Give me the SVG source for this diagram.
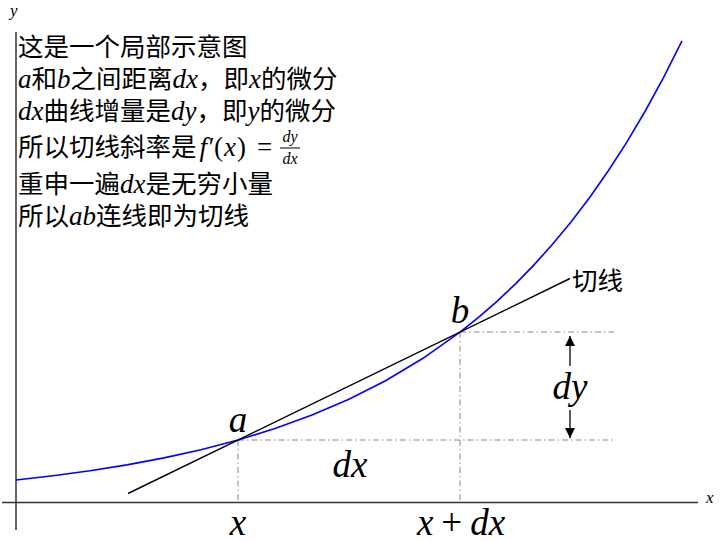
<svg xmlns="http://www.w3.org/2000/svg" width="720" height="542" viewBox="0 0 720 542">
<style>
.cjk{font-family:"Noto Sans CJK SC","Noto Sans",sans-serif;font-size:25.5px;fill:#000}
.m{font-family:"Liberation Serif","DejaVu Serif",serif;font-style:italic}
.mr{font-family:"Liberation Serif","DejaVu Serif",serif;font-style:normal}
.big{font-family:"Liberation Serif","DejaVu Serif",serif;font-style:italic;font-size:37px;fill:#000}
.guide{stroke:#888;stroke-width:1;stroke-dasharray:6,3,1.5,3;fill:none}
.axis{stroke:#333;stroke-width:1.5;fill:none}
</style>
<defs>
<marker id="ah" viewBox="0 0 10 10" refX="10" refY="5" markerWidth="10" markerHeight="10" markerUnits="userSpaceOnUse" orient="auto">
<path d="M0,0 L10,5 L0,10 z" fill="#000"/>
</marker>
</defs>
<rect width="720" height="542" fill="#fff"/>
<g id="axes">
<line class="axis" x1="2" y1="502.5" x2="698" y2="502.5"/>
<line class="axis" x1="16" y1="32" x2="16" y2="530"/>
<text class="m" x="706" y="503" font-size="17">x</text>
<text class="m" x="10" y="16" font-size="17">y</text>
</g>
<g id="connectors">
<line class="guide" x1="238" y1="440" x2="614" y2="440"/>
<line class="guide" x1="460" y1="332" x2="614" y2="332"/>
<line class="guide" x1="238" y1="440" x2="238" y2="502"/>
<line class="guide" x1="460" y1="332" x2="460" y2="502"/>
<polyline fill="none" stroke="#0000ff" stroke-width="1.6" points="16,480 53,475.8 90,470.8 127,464.9 164,457.9 201,449.7 238,440 275,428.6 312,415.1 349,399.2 386,380.5 423,358.3 460,332.2 478.5,317.4 497,301.3 515.5,283.9 534,264.9 552.5,244.3 571,222 589.5,197.7 608,171.3 626.5,142.6 645,111.5 663.5,77.6 682,40.9"/>
<line x1="128" y1="493.5" x2="570" y2="278.5" stroke="#000" stroke-width="1.4"/>
<line x1="570" y1="366" x2="570" y2="336" stroke="#000" stroke-width="1.3" marker-end="url(#ah)"/>
<line x1="570" y1="410" x2="570" y2="438" stroke="#000" stroke-width="1.3" marker-end="url(#ah)"/>
</g>
<g id="label-a"><text class="big" x="238" y="432" text-anchor="middle">a</text></g>
<g id="label-b"><text class="big" x="460" y="323" text-anchor="middle">b</text></g>
<g id="label-dx"><text class="big" x="350" y="477" text-anchor="middle">dx</text></g>
<g id="label-dy"><text class="big" x="570" y="399" text-anchor="middle">dy</text></g>
<g id="label-x"><text class="big" x="238" y="535" text-anchor="middle">x</text></g>
<g id="label-xdx"><text class="big" x="461" y="535" text-anchor="middle">x<tspan class="mr" dx="8">+</tspan><tspan dx="8">dx</tspan></text></g>
<g id="label-tangent"><text class="cjk" x="572" y="290" font-size="22">切线</text></g>
<g id="note">
<text class="cjk" x="18" y="56">这是一个局部示意图</text>
<text class="cjk" x="18" y="88"><tspan class="m" font-size="27">a</tspan>和<tspan class="m" font-size="27">b</tspan>之间距离<tspan class="m" font-size="27">dx</tspan>，即<tspan class="m" font-size="27">x</tspan>的微分</text>
<text class="cjk" x="18" y="120"><tspan class="m" font-size="27">dx</tspan>曲线增量是<tspan class="m" font-size="27">dy</tspan>，即<tspan class="m" font-size="27">y</tspan>的微分</text>
<text class="cjk" x="18" y="156">所以切线斜率是<tspan class="m" font-size="27" dx="3">f′</tspan><tspan class="mr" font-size="27" dx="1">(</tspan><tspan class="m" font-size="27" dx="1">x</tspan><tspan class="mr" font-size="27" dx="1">)</tspan><tspan class="mr" font-size="27" x="257">=</tspan></text>
<text class="m" x="290" y="142" font-size="16" text-anchor="middle">dy</text>
<line x1="280" y1="148" x2="300" y2="148" stroke="#000" stroke-width="1"/>
<text class="m" x="290" y="164" font-size="16" text-anchor="middle">dx</text>
<text class="cjk" x="18" y="193">重申一遍<tspan class="m" font-size="27">dx</tspan>是无穷小量</text>
<text class="cjk" x="18" y="225">所以<tspan class="m" font-size="27">ab</tspan>连线即为切线</text>
</g>
</svg>
